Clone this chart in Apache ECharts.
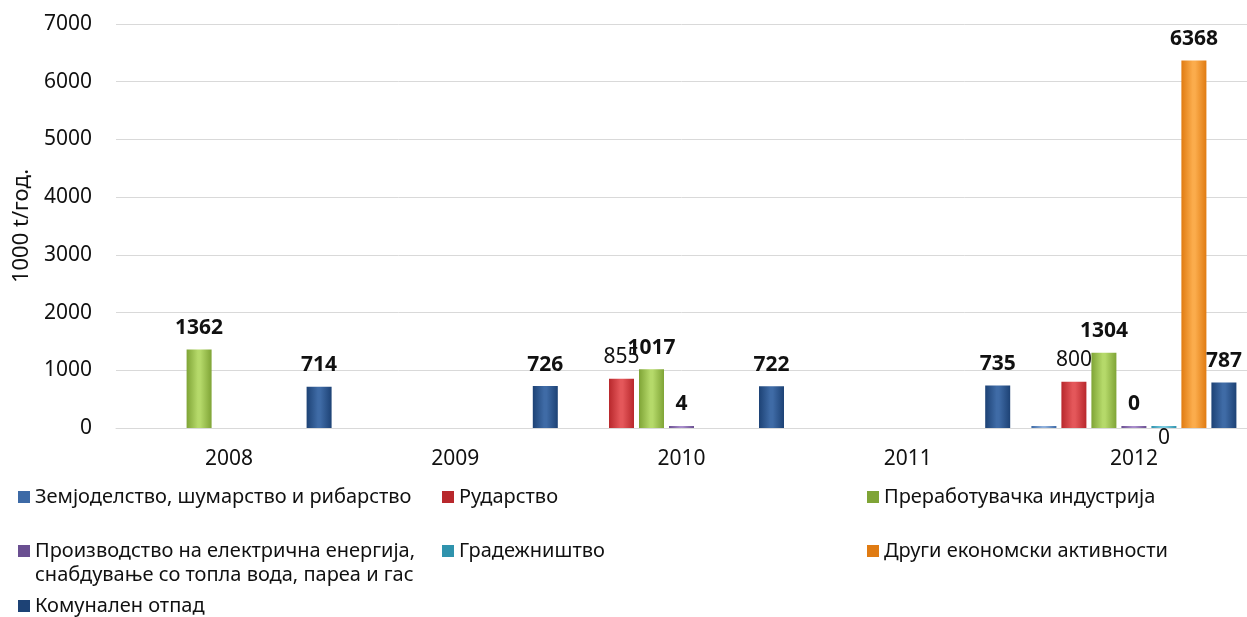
<!DOCTYPE html>
<html>
<head>
<meta charset="utf-8">
<script src="https://cdn.jsdelivr.net/npm/echarts@6/dist/echarts.min.js"></script>
<style>
html,body{margin:0;padding:0;background:#fff;}
#c{width:1247px;height:617px;}
</style>
</head>
<body>
<div id="c"></div>
<script>
const years = ['2008', '2009', '2010', '2011', '2012'];
const seriesNames = [
  'Земјоделство, шумарство и рибарство',
  'Рударство',
  'Преработувачка индустрија',
  'Производство на електрична енергија, снабдување со топла вода, пареа и гас',
  'Градежништво',
  'Други економски активности',
  'Комунален отпад'
];
const agriculture   = ['-', '-', '-', '-', 0];
const mining        = ['-', '-', 855, '-', 800];
const manufacturing = [1362, '-', 1017, '-', 1304];
const electricity   = ['-', '-', 4, '-', 0];
const construction  = ['-', '-', '-', '-', 0];
const otherActivity = ['-', '-', '-', '-', 6368];
const municipal     = [714, 726, 722, 735, 787];
const yTicks = [0, 7000, 1000];

const FONT = '"Noto Sans", sans-serif';
const colors = [
  ['#3d6aa6', '#8fb0dc'],
  ['#b8282c', '#e4575a'],
  ['#7fa436', '#b5d96a'],
  ['#6a4f91', '#a88ccb'],
  ['#2f93ad', '#7dcde2'],
  ['#e07b12', '#fbac4c'],
  ['#1d4275', '#3f6ba6']
];
function grad(c) {
  return new echarts.graphic.LinearGradient(0, 0, 1, 0, [
    {offset: 0, color: c[0]},
    {offset: 0.45, color: c[1]},
    {offset: 0.55, color: c[1]},
    {offset: 1, color: c[0]}
  ]);
}
const datas = [agriculture, mining, manufacturing, electricity, construction, otherActivity, municipal];
const labelCfg = [
  {show: false},
  {show: true, position: 'top', distance: 11, fontWeight: 'normal'},
  {show: true, position: 'top', distance: 11, fontWeight: 'bold'},
  {show: true, position: 'top', distance: 11, fontWeight: 'bold'},
  {show: true, position: 'bottom', distance: 0, fontWeight: 'normal'},
  {show: true, position: 'top', distance: 11, fontWeight: 'bold'},
  {show: true, position: 'top', distance: 11, fontWeight: 'bold'}
];
const series = seriesNames.map((n, i) => ({
  name: n,
  type: 'bar',
  data: datas[i],
  barWidth: 25,
  barGap: '20%',
  barMinHeight: 2,
  itemStyle: {color: grad(colors[i])},
  label: Object.assign({fontFamily: FONT, fontSize: 21, color: '#111'}, labelCfg[i]),
  animation: false
}));

const legendPos = [
  {left: 18, top: 485},
  {left: 442, top: 485},
  {left: 867, top: 485},
  {left: 18, top: 515},
  {left: 442, top: 539},
  {left: 867, top: 539},
  {left: 18, top: 594}
];
const legends = seriesNames.map((n, i) => ({
  data: [{name: n, itemStyle: {color: colors[i][0]}}],
  left: legendPos[i].left,
  top: legendPos[i].top,
  padding: 0,
  icon: 'rect',
  itemWidth: 12,
  itemHeight: 12,
  selectedMode: false,
  formatter: name => (i === 3 ? ' \n' + name.replace(', снабдување', ',\nснабдување') : name),
  textStyle: {fontFamily: FONT, fontSize: 20, color: '#111', lineHeight: 24}
}));

const chart = echarts.init(document.getElementById('c'));
chart.setOption({
  animation: false,
  grid: {left: 116, right: 0, top: 24, bottom: 189, containLabel: false},
  legend: legends,
  xAxis: {
    type: 'category',
    data: years,
    axisTick: {show: false},
    axisLine: {lineStyle: {color: '#d9d9d9'}},
    axisLabel: {fontFamily: FONT, fontSize: 21, color: '#111', margin: 21}
  },
  yAxis: {
    type: 'value',
    min: yTicks[0],
    max: yTicks[1],
    interval: yTicks[2],
    name: '1000 t/год.',
    nameLocation: 'middle',
    nameGap: 83,
    nameTextStyle: {fontFamily: FONT, fontSize: 22, color: '#111'},
    axisLine: {show: false},
    axisTick: {show: false},
    splitLine: {lineStyle: {color: '#d9d9d9'}},
    axisLabel: {fontFamily: FONT, fontSize: 21, color: '#111', margin: 24, formatter: v => String(v)}
  },
  series: series
});
</script>
</body>
</html>
